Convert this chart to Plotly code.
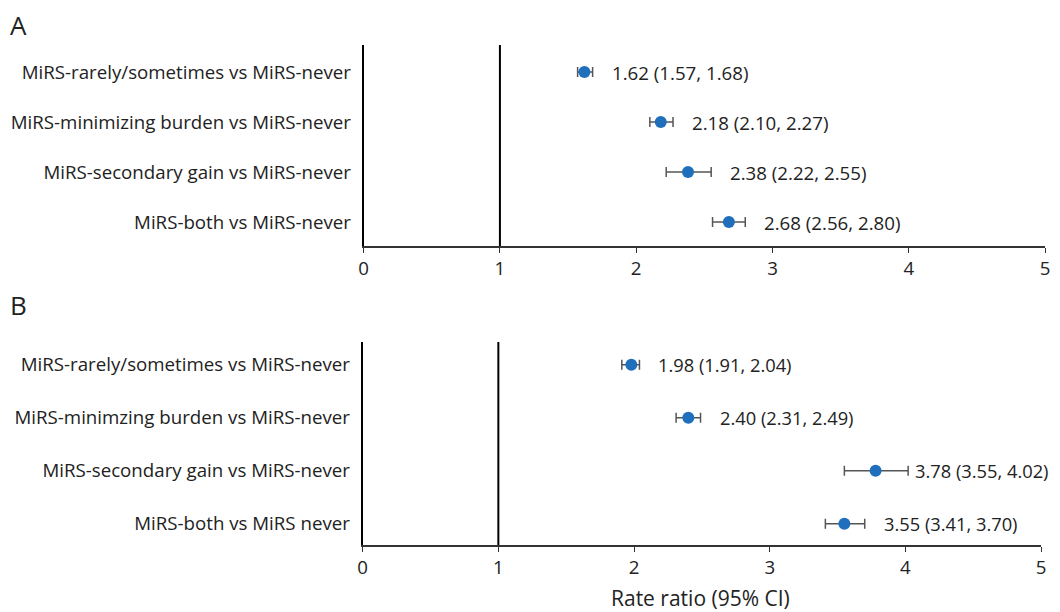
import plotly.graph_objects as go

# Data
labels_a = ["MiRS-rarely/sometimes vs MiRS-never",
            "MiRS-minimizing burden vs MiRS-never",
            "MiRS-secondary gain vs MiRS-never",
            "MiRS-both vs MiRS-never"]
est_a = [1.62, 2.18, 2.38, 2.68]
low_a = [1.57, 2.10, 2.22, 2.56]
high_a = [1.68, 2.27, 2.55, 2.80]

labels_b = ["MiRS-rarely/sometimes vs MiRS-never",
            "MiRS-minimzing burden vs MiRS-never",
            "MiRS-secondary gain vs MiRS-never",
            "MiRS-both vs MiRS never"]
est_b = [1.98, 2.40, 3.78, 3.55]
low_b = [1.91, 2.31, 3.55, 3.41]
high_b = [2.04, 2.49, 4.02, 3.70]

x_ticks = [0, 1, 2, 3, 4, 5]
panel_titles = ["A", "B"]
x_title = "Rate ratio (95% CI)"

# page has an 8px body margin; figure sized to fit window
OFF = 8
W, H = 1060 - OFF, 612 - OFF
FONT = "Open Sans"
BLUE = "#1f6fbd"
TXT = "#222222"
FS = 18.7
LABEL_W = 140     # approx. rendered width of a value label, px
XMAX = 5

fig = go.Figure()

def py(p):
    return 1 - (p - OFF) / H

def pxx(p):
    return (p - OFF) / W

panels = [
    dict(labels=labels_a, est=est_a, low=low_a, high=high_a,
         xpx=[362, 1050], yd=[py(246), py(45)], fs=FS,
         yr=[3.48, -0.54], xa="x", ya="y"),
    dict(labels=labels_b, est=est_b, low=low_b, high=high_b,
         xpx=[361, 1046], yd=[py(545), py(342)], fs=18.3,
         yr=[3.40, -0.43], xa="x2", ya="y2"),
]

for i, p in enumerate(panels):
    n = len(p["labels"])
    ys = list(range(n))
    x0, x1 = p["xpx"]
    scale = (x1 - x0) / XMAX
    fig.add_trace(go.Scatter(
        x=p["est"], y=ys, mode="markers",
        marker=dict(color=BLUE, size=12),
        error_x=dict(type="data", symmetric=False,
                     array=[h - e for h, e in zip(p["high"], p["est"])],
                     arrayminus=[e - l for e, l in zip(p["est"], p["low"])],
                     color="#555555", thickness=1.5, width=5),
        xaxis=p["xa"], yaxis=p["ya"], showlegend=False, hoverinfo="skip"))
    for j in range(n):
        # keep label inside the page: tighter gap when it would overflow
        start = x0 + p["high"][j] * scale
        shift = 17 if start + 17 + LABEL_W < 1056 else 5
        fig.add_annotation(
            x=p["high"][j], y=j, xref=p["xa"], yref=p["ya"],
            text=f"{p['est'][j]:.2f} ({p['low'][j]:.2f}, {p['high'][j]:.2f})",
            showarrow=False, xanchor="left", yanchor="middle", xshift=shift,
            font=dict(family=FONT, size=p["fs"], color=TXT))
    fig.add_shape(type="line", x0=1, x1=1, y0=0, y1=1,
                  xref=p["xa"], yref=p["ya"] + " domain",
                  line=dict(color="black", width=2))
    axn = "" if i == 0 else "2"
    fig.update_layout(**{
        "xaxis" + axn: dict(domain=[pxx(x0), pxx(x1)], range=[0, XMAX],
                            tickvals=x_ticks,
                            ticks="outside", ticklen=5, tickcolor="#333333",
                            showline=True, linecolor="#333333", linewidth=1.5,
                            showgrid=False, zeroline=False,
                            tickfont=dict(family=FONT, size=FS, color=TXT),
                            anchor=p["ya"]),
        "yaxis" + axn: dict(domain=p["yd"], range=p["yr"], tickvals=ys,
                            ticktext=p["labels"], ticks="", showline=True,
                            linecolor="black", linewidth=2, showgrid=False,
                            zeroline=False, ticklabelstandoff=7,
                            tickfont=dict(family=FONT, size=FS, color=TXT),
                            anchor=p["xa"]),
    })

fig.add_annotation(x=pxx(3), y=py(25), xref="paper", yref="paper",
                   text=panel_titles[0], showarrow=False, xanchor="left",
                   yanchor="middle", font=dict(family=FONT, size=26, color=TXT))
fig.add_annotation(x=pxx(3), y=py(305), xref="paper", yref="paper",
                   text=panel_titles[1], showarrow=False, xanchor="left",
                   yanchor="middle", font=dict(family=FONT, size=26, color=TXT))
fig.add_annotation(x=pxx(702), y=py(598), xref="paper", yref="paper",
                   text=x_title, showarrow=False, xanchor="center",
                   yanchor="middle", font=dict(family=FONT, size=21, color=TXT))

fig.update_layout(width=W, height=H, margin=dict(l=0, r=0, t=0, b=0),
                  plot_bgcolor="white", paper_bgcolor="white")

fig.write_html("out.html")
